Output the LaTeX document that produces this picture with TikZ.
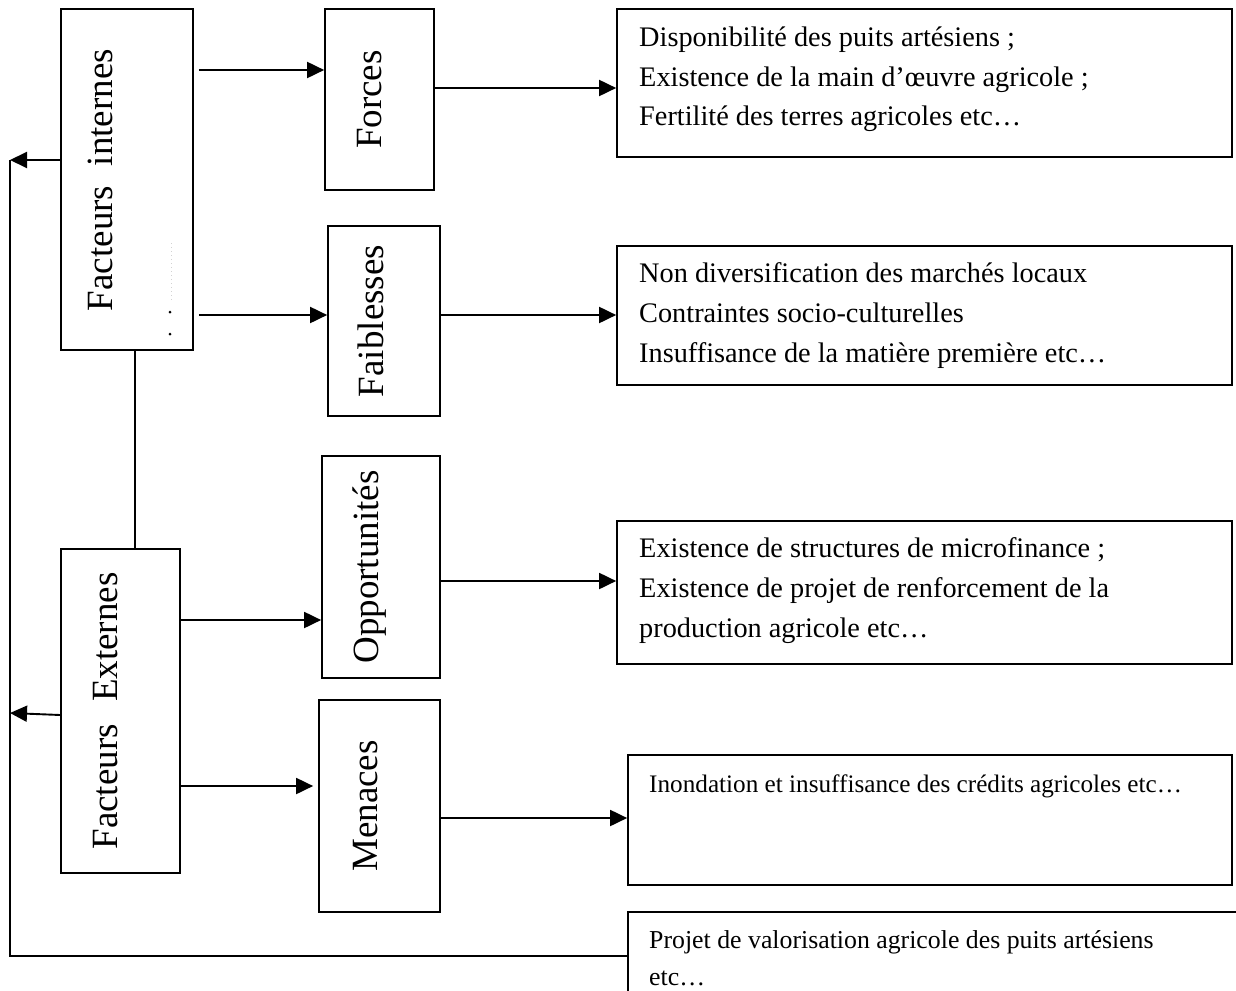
\documentclass[tikz,border=0pt]{standalone}
\usepackage{fontspec}
\setmainfont{Liberation Serif}
\usetikzlibrary{arrows.meta,calc}
\begin{document}
\begin{tikzpicture}[x=1pt,y=-1pt,
  box/.style={draw=black,line width=1.7pt,rectangle,inner sep=0pt},
  arr/.style={line width=1.9pt,-{Triangle[length=17pt,width=16pt]}},
  con/.style={line width=1.7pt},
  lbl/.style={rotate=90,anchor=base,inner sep=0pt,font=\fontsize{37}{44}\selectfont},
  txt/.style={anchor=base west,inner sep=0pt,font=\fontsize{28.3}{39}\selectfont},
  stxt/.style={anchor=base west,inner sep=0pt,font=\fontsize{25.2}{37}\selectfont},
  ptxt/.style={anchor=base west,inner sep=0pt,font=\fontsize{25.8}{37}\selectfont}]
\clip (0,0) rectangle (1236,990);
\fill[white] (0,0) rectangle (1236,990);
% boxes
\node[box,minimum width=132pt,minimum height=341pt] (fi) at (127,179.5) {};
\node[box,minimum width=119pt,minimum height=324pt] (fe) at (120.5,711) {};
\node[box,minimum width=109pt,minimum height=181pt] (fo) at (379.5,99.5) {};
\node[box,minimum width=112pt,minimum height=190pt] (fa) at (384,321) {};
\node[box,minimum width=118pt,minimum height=222pt] (op) at (381,567) {};
\node[box,minimum width=121pt,minimum height=212pt] (me) at (379.5,806) {};
\node[box,minimum width=615pt,minimum height=148pt] (b1) at (924.5,83) {};
\node[box,minimum width=615pt,minimum height=139pt] (b2) at (924.5,315.5) {};
\node[box,minimum width=615pt,minimum height=143pt] (b3) at (924.5,592.5) {};
\node[box,minimum width=604pt,minimum height=130pt] (b4) at (930,820) {};
\node[box,minimum width=616pt,minimum height=92pt] (b5) at (936,958) {};
% rotated labels
\node[lbl] (lfi) at (112,180) {Facteurs\hspace{0.53em}internes};
\node[lbl] (lfe) at (117,711) {Facteurs\hspace{0.6em}Externes};
\node[lbl] (lfo) at (381,99.5) {Forces};
\node[lbl] (lfa) at (383,321) {Faiblesses};
\node[lbl] (lop) at (378,567) {Opportunités};
\node[lbl] (lme) at (377,806) {Menaces};
% faint dots in the first box
\draw[gray!35,line width=0.6pt,dash pattern=on 1pt off 3pt] (171,243) -- (171,300);
\fill (170,312) circle (1.5pt);
\fill (170,334) circle (1.5pt);
% texts
\node[txt] (t11) at (639,47) {Disponibilité des puits artésiens ;};
\node[txt] (t12) at (639,86) {Existence de la main d’œuvre agricole ;};
\node[txt] (t13) at (639,125) {Fertilité des terres agricoles etc…};
\node[txt] (t21) at (639,282) {Non diversification des marchés locaux};
\node[txt] (t22) at (639,322) {Contraintes socio-culturelles};
\node[txt] (t23) at (639,362) {Insuffisance de la matière première etc…};
\node[txt] (t31) at (639,557) {Existence de structures de microfinance ;};
\node[txt] (t32) at (639,597) {Existence de projet de renforcement de la};
\node[txt] (t33) at (639,637) {production agricole etc…};
\node[stxt] (t41) at (649,792) {Inondation et insuffisance des crédits agricoles etc…};
\node[ptxt] (t51) at (649,948) {Projet de valorisation agricole des puits artésiens};
\node[ptxt] (t52) at (649,985) {etc…};
% helper coordinates
\coordinate (y70) at (0,70);
\coordinate (y88) at (0,88);
\coordinate (y315) at (0,315);
\coordinate (y581) at (0,581);
\coordinate (y620) at (0,620);
\coordinate (y786) at (0,786);
\coordinate (y818) at (0,818);
\coordinate (vx) at (135,0);
\coordinate (L1) at (10,160);
\coordinate (L2) at (10,713);
\coordinate (L3) at (10,956);
% connectors
\draw[arr] ($(fi.east |- y70)+(5,0)$) -- (fo.west |- y70);
\draw[arr] ($(fi.east |- y315)+(5,0)$) -- (fa.west |- y315);
\draw[arr] (fo.east |- y88) -- (b1.west |- y88);
\draw[arr] (fa.east |- y315) -- (b2.west |- y315);
\draw[arr] (fe.east |- y620) -- (op.west |- y620);
\draw[arr] (op.east |- y581) -- (b3.west |- y581);
\draw[arr] (fe.east |- y786) -- ($(me.west |- y786)+(-5,0)$);
\draw[arr] (me.east |- y818) -- (b4.west |- y818);
\draw[con] (fi.south -| vx) -- (fe.north -| vx);
\draw[arr] (fi.west |- L1) -- (L1);
\draw[arr] ($(fe.west)+(0,4)$) -- (L2);
\draw[con] (L1) -- (L3) -- (b5.west |- L3);
\end{tikzpicture}
\end{document}
